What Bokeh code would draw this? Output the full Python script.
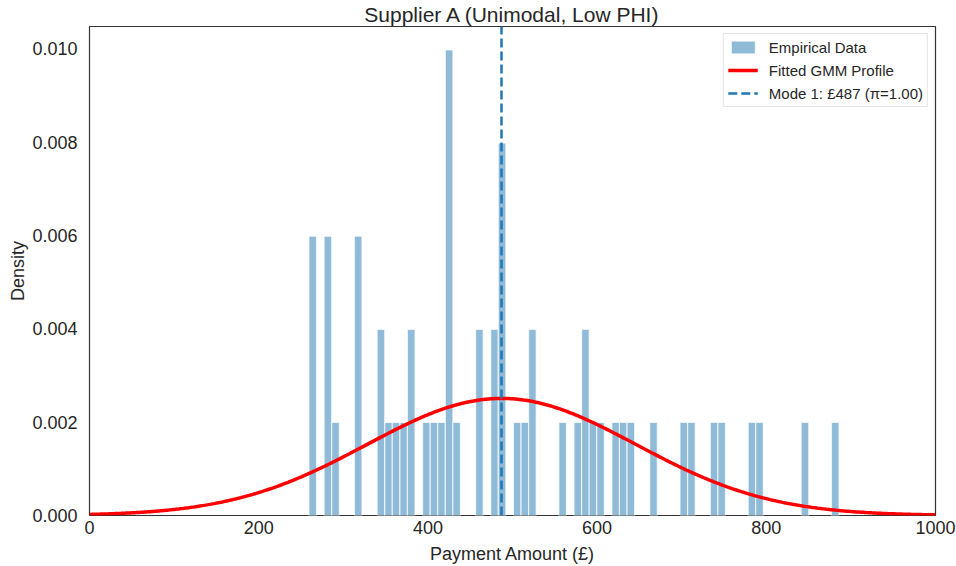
import numpy as np
from bokeh.plotting import figure
from bokeh.models import FixedTicker, NumeralTickFormatter, Legend
from bokeh.embed import file_html
from bokeh.resources import INLINE

# ---- data ----
bin_width = 8.95
bin_lefts = [259.4, 277.3, 286.3, 313.1, 340.0, 349.0, 357.9, 366.9, 375.8,
             393.7, 402.7, 411.6, 420.6, 429.5, 456.4, 474.3, 483.2, 501.1,
             510.1, 519.0, 554.8, 572.7, 581.7, 590.6, 599.6, 617.5, 626.4,
             635.4, 662.2, 698.0, 707.0, 733.8, 742.8, 778.6, 787.5, 841.2, 877.0]
bin_counts = [3, 3, 1, 3, 2, 1, 1, 1, 2,
              1, 1, 1, 5, 1, 2, 2, 4, 1,
              1, 2, 1, 1, 2, 1, 1, 1, 1,
              1, 1, 1, 1, 1, 1, 1, 1, 1, 1]
gmm_mean = 487.0
gmm_sd = 159.0
gmm_weight = 1.00
x_ticks = [0, 200, 400, 600, 800, 1000]
y_ticks = [0.000, 0.002, 0.004, 0.006, 0.008, 0.010]

n_total = sum(bin_counts)
lefts = np.array(bin_lefts)
density = np.array(bin_counts) / (n_total * bin_width)

xs = np.linspace(0, 1000, 600)
ys = gmm_weight * np.exp(-0.5 * ((xs - gmm_mean) / gmm_sd) ** 2) / (gmm_sd * np.sqrt(2 * np.pi))

FONT = "Liberation Sans"
TXT = "#262626"
y_top = 0.01048

p = figure(width=956, height=566, x_range=(0, 1000), y_range=(0, y_top),
           output_backend="svg", toolbar_location=None,
           min_border_left=89, min_border_right=21, min_border_top=10, min_border_bottom=51)

p.title.text = "Supplier A (Unimodal, Low PHI)"
p.title.align = "center"
p.title.text_font = FONT
p.title.text_font_size = "21px"
p.title.text_font_style = "normal"
p.title.text_color = TXT
p.title.standoff = 1
p.title.offset = 0

r_bars = p.quad(left=lefts, right=lefts + bin_width, bottom=0, top=density,
                fill_color="#1f77b4", fill_alpha=0.5, line_color="white", line_width=1.2, line_alpha=0.7)
r_curve = p.line(xs, ys, line_color="red", line_width=3.5)
r_mode = p.line([gmm_mean, gmm_mean], [0, y_top], line_color="#1f77b4", line_width=2.5, line_dash="9 4")

legend = Legend(items=[("Empirical Data", [r_bars]),
                       ("Fitted GMM Profile", [r_curve]),
                       ("Mode 1: £487 (π=1.00)", [r_mode])],
                location="top_right")
p.add_layout(legend)
legend.margin = 7
legend.padding = 4
legend.spacing = 5
legend.glyph_width = 30
legend.glyph_height = 16
legend.label_height = 18
legend.label_standoff = 11
legend.label_text_font = FONT
legend.label_text_font_size = "15px"
legend.label_text_color = TXT
legend.border_line_color = "#cccccc"
legend.border_line_width = 1
legend.background_fill_alpha = 0.8

p.xgrid.visible = False
p.ygrid.visible = False
p.outline_line_color = "#333333"
p.outline_line_width = 1.2

for ax in (p.xaxis[0], p.yaxis[0]):
    ax.axis_line_color = None
    ax.major_tick_line_color = None
    ax.minor_tick_line_color = None
    ax.major_tick_out = 0
    ax.major_tick_in = 0
    ax.major_label_text_font = FONT
    ax.major_label_text_font_size = "18px"
    ax.major_label_text_color = TXT
    ax.axis_label_text_font = FONT
    ax.axis_label_text_font_size = "18px"
    ax.axis_label_text_font_style = "normal"
    ax.axis_label_text_color = TXT

p.xaxis.ticker = FixedTicker(ticks=x_ticks)
p.yaxis.ticker = FixedTicker(ticks=y_ticks)
p.yaxis.formatter = NumeralTickFormatter(format="0.000")
p.xaxis.axis_label = "Payment Amount (£)"
p.yaxis.axis_label = "Density"
p.xaxis.major_label_standoff = 5
p.yaxis.major_label_standoff = 12
p.xaxis.axis_label_standoff = 7
p.yaxis.axis_label_standoff = 1

open("out.html", "w").write(file_html(p, INLINE))
